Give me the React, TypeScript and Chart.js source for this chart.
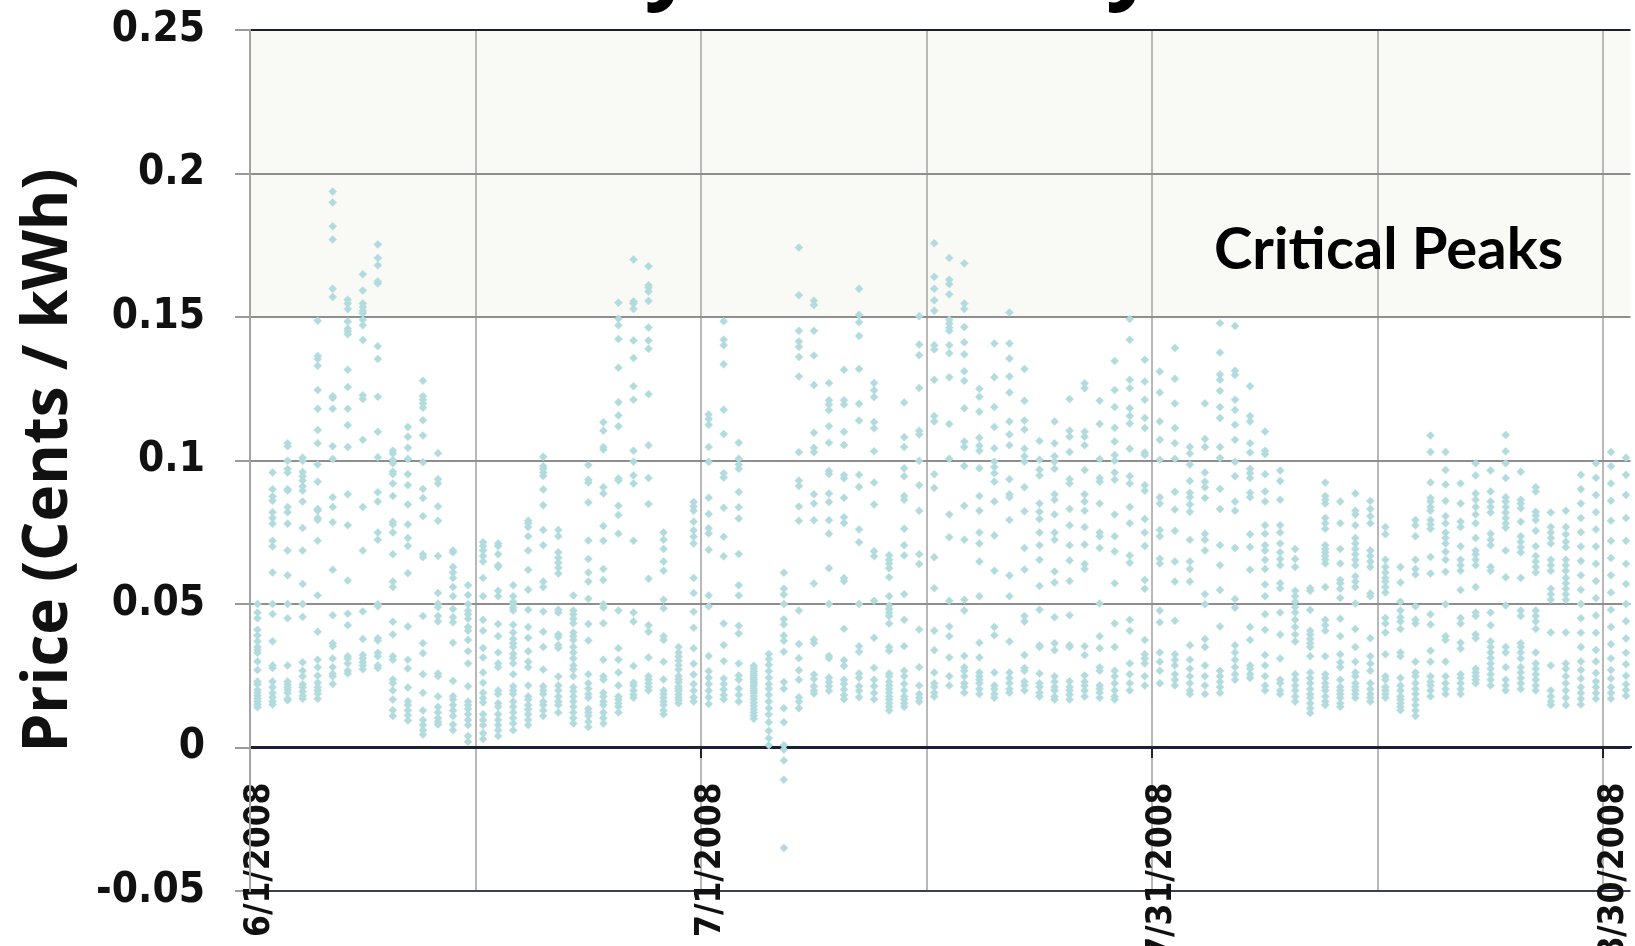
import { useEffect, useRef } from "react";
import { Chart, registerables } from "chart.js";

Chart.register(...registerables);

// ---- axis definitions ----
const xTickDays = [0, 30, 60, 90];
const xTickLabels = ["6/1/2008", "7/1/2008", "7/31/2008", "8/30/2008"];
const yMin = -0.05;
const yMax = 0.25;
const yStep = 0.05;
const criticalPeakThreshold = 0.15;
const chartTitle = "Hourly Electricity Prices";
const yAxisTitle = "Price (Cents / kWh)";
const peakLabel = "Critical Peaks";

// ---- hourly prices per day ----
const juneHourly: number[][] = [
  [0.05, 0.047, 0.045, 0.041, 0.039, 0.037, 0.035, 0.034, 0.033, 0.03, 0.027, 0.023, 0.022, 0.02, 0.019, 0.018, 0.017, 0.016, 0.015, 0.014],
  [0.0958, 0.09, 0.0875, 0.086, 0.082, 0.08, 0.078, 0.072, 0.07, 0.061, 0.05, 0.0465, 0.037, 0.0286, 0.0277, 0.023, 0.021, 0.019, 0.0175, 0.016, 0.015],
  [0.106, 0.105, 0.0999, 0.097, 0.0958, 0.09, 0.0895, 0.0838, 0.082, 0.078, 0.0686, 0.06, 0.05, 0.045, 0.0286, 0.023, 0.022, 0.021, 0.02, 0.019, 0.017, 0.0165],
  [0.101, 0.0999, 0.096, 0.0945, 0.093, 0.091, 0.0895, 0.0857, 0.0765, 0.0686, 0.057, 0.05, 0.0455, 0.0297, 0.0267, 0.0248, 0.022, 0.021, 0.0195, 0.018, 0.017],
  [0.1487, 0.1364, 0.1354, 0.133, 0.1246, 0.118, 0.1106, 0.106, 0.0986, 0.0926, 0.0831, 0.0825, 0.08, 0.0793, 0.072, 0.053, 0.0403, 0.0306, 0.028, 0.025, 0.0226, 0.021, 0.0199, 0.0187, 0.017],
  [0.1937, 0.1899, 0.1816, 0.177, 0.1598, 0.157, 0.1224, 0.1218, 0.118, 0.105, 0.1005, 0.0872, 0.0838, 0.0785, 0.0619, 0.0461, 0.0363, 0.0353, 0.031, 0.028, 0.0257, 0.0248, 0.0221],
  [0.156, 0.1547, 0.1528, 0.1484, 0.1459, 0.145, 0.144, 0.1316, 0.1256, 0.118, 0.1123, 0.1047, 0.0882, 0.0774, 0.0582, 0.0466, 0.0426, 0.0318, 0.031, 0.0293, 0.0267, 0.0258],
  [0.1649, 0.1592, 0.1547, 0.1535, 0.1522, 0.1513, 0.149, 0.1471, 0.142, 0.1227, 0.1214, 0.1072, 0.0838, 0.0686, 0.0474, 0.0378, 0.0322, 0.031, 0.0297, 0.0286, 0.0273],
  [0.1753, 0.1706, 0.168, 0.1624, 0.1617, 0.1398, 0.1354, 0.1222, 0.11, 0.1011, 0.0889, 0.0857, 0.0749, 0.0724, 0.0499, 0.0492, 0.0381, 0.0373, 0.033, 0.0318, 0.0286, 0.0277],
  [0.1034, 0.1024, 0.1002, 0.099, 0.0961, 0.0952, 0.092, 0.0876, 0.0787, 0.0777, 0.0749, 0.0673, 0.0578, 0.0559, 0.0438, 0.0394, 0.0318, 0.0306, 0.0237, 0.0224, 0.0199, 0.0167, 0.013, 0.011],
  [0.1117, 0.1083, 0.1044, 0.1005, 0.0952, 0.0914, 0.0847, 0.0777, 0.073, 0.0702, 0.0607, 0.0422, 0.0306, 0.0275, 0.0209, 0.0161, 0.0148, 0.0129, 0.0112, 0.0094],
  [0.1278, 0.1224, 0.1212, 0.1199, 0.1184, 0.114, 0.1087, 0.0994, 0.0901, 0.0869, 0.0806, 0.0673, 0.0663, 0.0458, 0.0363, 0.0328, 0.0255, 0.0191, 0.0129, 0.0096, 0.0078, 0.006, 0.0045],
  [0.1025, 0.0935, 0.092, 0.084, 0.079, 0.0667, 0.0538, 0.0501, 0.0489, 0.0458, 0.0439, 0.0258, 0.0248, 0.0178, 0.0141, 0.0122, 0.0103, 0.009, 0.008],
  [0.0686, 0.068, 0.0629, 0.061, 0.0591, 0.0559, 0.0527, 0.0483, 0.0454, 0.0436, 0.0365, 0.0232, 0.0179, 0.0167, 0.0148, 0.0129, 0.011, 0.008, 0.006],
  [0.0565, 0.0531, 0.0499, 0.0477, 0.0464, 0.0449, 0.042, 0.0407, 0.0375, 0.0335, 0.0293, 0.0213, 0.016, 0.0148, 0.0135, 0.0116, 0.0096, 0.0078, 0.004, 0.002],
  [0.0715, 0.0702, 0.0686, 0.0667, 0.0648, 0.0591, 0.0527, 0.0445, 0.0407, 0.0347, 0.0314, 0.0261, 0.0226, 0.0191, 0.0172, 0.0157, 0.0116, 0.0096, 0.0078, 0.005, 0.003],
  [0.0711, 0.0702, 0.0673, 0.0635, 0.0629, 0.0546, 0.0527, 0.043, 0.0388, 0.0331, 0.0293, 0.028, 0.0199, 0.0186, 0.0154, 0.0142, 0.0116, 0.0096, 0.0078, 0.006, 0.004],
  [0.0565, 0.0527, 0.0508, 0.0499, 0.0487, 0.0477, 0.0428, 0.0401, 0.0378, 0.0363, 0.035, 0.0327, 0.0312, 0.0293, 0.0255, 0.0213, 0.0199, 0.0186, 0.016, 0.0142, 0.0122, 0.0103, 0.0084, 0.006],
  [0.079, 0.0781, 0.0768, 0.0736, 0.0686, 0.0619, 0.055, 0.048, 0.042, 0.0382, 0.0335, 0.0299, 0.028, 0.0216, 0.0178, 0.0167, 0.0148, 0.0133, 0.0116, 0.0096, 0.0078],
  [0.1013, 0.098, 0.0971, 0.0958, 0.0946, 0.0899, 0.0844, 0.0758, 0.0705, 0.0578, 0.0559, 0.0474, 0.0403, 0.035, 0.0272, 0.0213, 0.0199, 0.0186, 0.016, 0.0148, 0.0129, 0.011],
  [0.0758, 0.0736, 0.068, 0.0661, 0.0644, 0.0626, 0.0606, 0.048, 0.047, 0.0394, 0.0385, 0.0357, 0.0347, 0.0247, 0.0216, 0.0199, 0.0178, 0.016, 0.0148, 0.0122],
  [0.053, 0.0477, 0.0464, 0.0449, 0.0433, 0.0401, 0.0388, 0.0375, 0.035, 0.0331, 0.031, 0.0286, 0.0272, 0.0248, 0.021, 0.0196, 0.0178, 0.016, 0.0142, 0.0122, 0.0103, 0.0084],
  [0.0984, 0.0933, 0.0923, 0.0854, 0.0721, 0.0657, 0.061, 0.0578, 0.0518, 0.043, 0.0373, 0.0255, 0.0224, 0.0205, 0.0186, 0.0173, 0.0135, 0.0122, 0.011, 0.009, 0.0071],
  [0.1133, 0.1104, 0.1047, 0.1038, 0.0907, 0.0885, 0.0772, 0.072, 0.0622, 0.0584, 0.0499, 0.0487, 0.0433, 0.0306, 0.0248, 0.0237, 0.0191, 0.0178, 0.016, 0.0148, 0.0122, 0.0103, 0.0084],
  [0.155, 0.1494, 0.1471, 0.1423, 0.1323, 0.1203, 0.1157, 0.1119, 0.0937, 0.093, 0.0842, 0.081, 0.0745, 0.0477, 0.0346, 0.0306, 0.0261, 0.0216, 0.0178, 0.0167, 0.0154, 0.0142, 0.0122],
  [0.17, 0.1554, 0.1547, 0.1528, 0.1418, 0.1357, 0.1259, 0.1212, 0.1034, 0.0996, 0.0948, 0.092, 0.072, 0.047, 0.0439, 0.0284, 0.0226, 0.0216, 0.0199, 0.0184, 0.0173],
  [0.1677, 0.1611, 0.1602, 0.1589, 0.1556, 0.1463, 0.1418, 0.1389, 0.1231, 0.1053, 0.0939, 0.0848, 0.0588, 0.0426, 0.0403, 0.0314, 0.0248, 0.0237, 0.0224, 0.0211, 0.0199],
  [0.0749, 0.0724, 0.0692, 0.0648, 0.0616, 0.0515, 0.0485, 0.0388, 0.0375, 0.0299, 0.0237, 0.0199, 0.0186, 0.0173, 0.016, 0.0148, 0.0129, 0.0116],
  [0.035, 0.0331, 0.0317, 0.0302, 0.0287, 0.0272, 0.0249, 0.0238, 0.0227, 0.0212, 0.0204, 0.0197, 0.0185, 0.0174, 0.0165, 0.0154],
  [0.0855, 0.084, 0.0825, 0.0787, 0.0757, 0.0734, 0.0711, 0.0591, 0.0538, 0.0473, 0.0417, 0.0346, 0.0292, 0.0254, 0.0221, 0.0198, 0.0175, 0.016],
];

const julyHourly: number[][] = [
  [0.116, 0.1145, 0.1124, 0.1047, 0.0995, 0.087, 0.0814, 0.0764, 0.0746, 0.0689, 0.053, 0.0492, 0.0319, 0.0266, 0.0243, 0.0221, 0.0198, 0.0175, 0.0152],
  [0.1485, 0.1421, 0.1402, 0.1335, 0.1177, 0.1092, 0.0956, 0.0941, 0.0835, 0.0734, 0.0666, 0.0432, 0.0357, 0.0301, 0.024, 0.0221, 0.0202, 0.0183, 0.0168],
  [0.1062, 0.1006, 0.0986, 0.0971, 0.089, 0.0837, 0.0798, 0.0674, 0.0565, 0.053, 0.0424, 0.0397, 0.0293, 0.0251, 0.0236, 0.0205, 0.0183, 0.016],
  [0.0285, 0.0275, 0.0266, 0.0258, 0.0251, 0.0243, 0.0236, 0.0228, 0.0221, 0.0213, 0.0205, 0.0198, 0.019, 0.0179, 0.0168, 0.0156, 0.0145, 0.0133, 0.0122, 0.0111, 0.01],
  [0.0326, 0.0308, 0.0288, 0.0266, 0.0243, 0.0221, 0.0205, 0.0183, 0.016, 0.0137, 0.0115, 0.0088, 0.0058, 0.0032, 0.0008],
  [0.0609, 0.0553, 0.0533, 0.05, 0.0447, 0.0429, 0.039, 0.0372, 0.0334, 0.0228, 0.0205, 0.0137, 0.0088, 0.0008, -0.0007, -0.0045, -0.0112, -0.035],
  [0.1742, 0.1576, 0.1452, 0.1415, 0.1396, 0.1361, 0.1293, 0.1029, 0.093, 0.0911, 0.084, 0.079, 0.0477, 0.0361, 0.0311, 0.0269, 0.0236, 0.0175, 0.016, 0.0137],
  [0.1557, 0.1542, 0.1452, 0.1366, 0.1263, 0.1097, 0.1044, 0.1029, 0.0882, 0.085, 0.0792, 0.0571, 0.0376, 0.0364, 0.0254, 0.0239, 0.0213, 0.0198, 0.0188],
  [0.127, 0.121, 0.1195, 0.1175, 0.1119, 0.1062, 0.0964, 0.0953, 0.0885, 0.0855, 0.0792, 0.0745, 0.0625, 0.05, 0.0319, 0.0311, 0.0243, 0.0228, 0.0213, 0.0198],
  [0.1316, 0.121, 0.1195, 0.11, 0.1054, 0.0949, 0.0938, 0.087, 0.0802, 0.0782, 0.0591, 0.0579, 0.0414, 0.0304, 0.0284, 0.0236, 0.0221, 0.0202, 0.0183, 0.0168],
  [0.1598, 0.1508, 0.1482, 0.1434, 0.1319, 0.1198, 0.1139, 0.095, 0.0908, 0.076, 0.0715, 0.05, 0.0353, 0.0334, 0.0258, 0.0243, 0.0213, 0.0198, 0.0175],
  [0.127, 0.1245, 0.1221, 0.1134, 0.1112, 0.1032, 0.0923, 0.0847, 0.0684, 0.0666, 0.0511, 0.0382, 0.0278, 0.0236, 0.0213, 0.019, 0.0168],
  [0.067, 0.0654, 0.0641, 0.0625, 0.0593, 0.0527, 0.0495, 0.0483, 0.047, 0.0458, 0.0432, 0.035, 0.0337, 0.0258, 0.0248, 0.0229, 0.0216, 0.0204, 0.0191, 0.0178, 0.0167, 0.0154, 0.0142, 0.0129],
  [0.1202, 0.1081, 0.1047, 0.0973, 0.0945, 0.0876, 0.0863, 0.0762, 0.0705, 0.0669, 0.0534, 0.0445, 0.0353, 0.0267, 0.0248, 0.0222, 0.0199, 0.0178, 0.0167, 0.0154, 0.0142],
  [0.1503, 0.1404, 0.1367, 0.1253, 0.1104, 0.1091, 0.0999, 0.0914, 0.0825, 0.0673, 0.0639, 0.0411, 0.028, 0.0216, 0.0186, 0.0173, 0.016],
  [0.1757, 0.164, 0.1598, 0.1558, 0.1522, 0.1402, 0.1387, 0.1281, 0.1155, 0.1136, 0.0952, 0.0904, 0.0663, 0.0555, 0.0407, 0.0339, 0.0261, 0.0224, 0.0211, 0.0191, 0.0178],
  [0.1706, 0.163, 0.1615, 0.1579, 0.149, 0.1477, 0.1463, 0.1452, 0.1402, 0.1374, 0.129, 0.1127, 0.1006, 0.0812, 0.0733, 0.0511, 0.0422, 0.0388, 0.0314, 0.0248, 0.0216],
  [0.1687, 0.1547, 0.1528, 0.1465, 0.1412, 0.137, 0.1311, 0.1278, 0.1182, 0.1066, 0.1047, 0.0981, 0.0842, 0.0724, 0.0515, 0.0477, 0.0319, 0.028, 0.0267, 0.0248, 0.0224, 0.0211, 0.0191],
  [0.125, 0.1222, 0.117, 0.1079, 0.1051, 0.1034, 0.0973, 0.0876, 0.0825, 0.0749, 0.0711, 0.0648, 0.0527, 0.0365, 0.0314, 0.0261, 0.0248, 0.0236, 0.0224, 0.0204, 0.0186],
  [0.1408, 0.129, 0.1186, 0.1117, 0.1043, 0.0996, 0.0977, 0.0956, 0.0926, 0.0857, 0.0739, 0.0616, 0.042, 0.0391, 0.0261, 0.0216, 0.0204, 0.0186, 0.0173],
  [0.1516, 0.1408, 0.1355, 0.1293, 0.1237, 0.1136, 0.1091, 0.1053, 0.0935, 0.0882, 0.0872, 0.0793, 0.0599, 0.0527, 0.0369, 0.0261, 0.0242, 0.0224, 0.0204, 0.0191],
  [0.1319, 0.1208, 0.1139, 0.1108, 0.1041, 0.1015, 0.0996, 0.0907, 0.0823, 0.0695, 0.062, 0.0458, 0.0439, 0.0322, 0.0277, 0.0267, 0.0229, 0.0216, 0.0199],
  [0.1068, 0.1003, 0.0968, 0.0948, 0.085, 0.0821, 0.0796, 0.0749, 0.0705, 0.0654, 0.0563, 0.048, 0.0356, 0.035, 0.0258, 0.0224, 0.0211, 0.0191, 0.0178],
  [0.1136, 0.106, 0.1015, 0.0996, 0.0971, 0.0882, 0.0863, 0.0812, 0.0749, 0.0724, 0.0613, 0.0575, 0.0454, 0.0363, 0.0339, 0.0248, 0.0229, 0.0211, 0.0199, 0.0178, 0.0167],
  [0.1214, 0.1104, 0.1083, 0.103, 0.0935, 0.092, 0.0831, 0.0774, 0.0705, 0.0652, 0.058, 0.0461, 0.0356, 0.035, 0.0231, 0.0211, 0.0199, 0.0184, 0.0167],
  [0.1269, 0.1252, 0.11, 0.1083, 0.1053, 0.0967, 0.0882, 0.0857, 0.0825, 0.0768, 0.0707, 0.0639, 0.0622, 0.0353, 0.0322, 0.0251, 0.0229, 0.0216, 0.0199, 0.0178],
  [0.1208, 0.1127, 0.1005, 0.0939, 0.0926, 0.085, 0.0749, 0.0736, 0.0695, 0.0502, 0.0388, 0.0346, 0.028, 0.0267, 0.0216, 0.0204, 0.0191, 0.0173],
  [0.1347, 0.1246, 0.1186, 0.1114, 0.1066, 0.1019, 0.0999, 0.0958, 0.0933, 0.0812, 0.0736, 0.0683, 0.0572, 0.0432, 0.035, 0.0267, 0.0248, 0.0224, 0.0199, 0.0178, 0.0167],
  [0.1493, 0.1421, 0.1281, 0.1252, 0.1182, 0.1155, 0.1129, 0.1041, 0.0945, 0.092, 0.0838, 0.0781, 0.0669, 0.0644, 0.0445, 0.0407, 0.0293, 0.0255, 0.0224, 0.0199],
  [0.1351, 0.1275, 0.1212, 0.1148, 0.1113, 0.1028, 0.1019, 0.0914, 0.0895, 0.0796, 0.0749, 0.0702, 0.0584, 0.0553, 0.0375, 0.0325, 0.031, 0.0293, 0.0248, 0.0216],
  [0.131, 0.1237, 0.1136, 0.1072, 0.1003, 0.0872, 0.085, 0.0758, 0.0736, 0.0658, 0.0641, 0.0477, 0.0436, 0.0331, 0.0299, 0.0267, 0.0224],
];

const augustHourly: number[][] = [
  [0.1392, 0.1285, 0.1199, 0.1113, 0.106, 0.1006, 0.0891, 0.0829, 0.0755, 0.0648, 0.0578, 0.0442, 0.0325, 0.0306, 0.0286, 0.0255, 0.0236, 0.0216],
  [0.1047, 0.1024, 0.0986, 0.0929, 0.0888, 0.0872, 0.0847, 0.0821, 0.0724, 0.0648, 0.0622, 0.0578, 0.0356, 0.0306, 0.0274, 0.0248, 0.0224, 0.0199, 0.0186],
  [0.1199, 0.1075, 0.1047, 0.0958, 0.0926, 0.0907, 0.0869, 0.0745, 0.0724, 0.0686, 0.0534, 0.0499, 0.0378, 0.035, 0.0286, 0.0248, 0.0216, 0.0186],
  [0.1478, 0.1376, 0.13, 0.1281, 0.1243, 0.1186, 0.1148, 0.1047, 0.1009, 0.0901, 0.0831, 0.0705, 0.0635, 0.0549, 0.0422, 0.0267, 0.0248, 0.0229, 0.0211, 0.0191],
  [0.1469, 0.1313, 0.1298, 0.1212, 0.1176, 0.1125, 0.1072, 0.0996, 0.0945, 0.0857, 0.0825, 0.0695, 0.0517, 0.0487, 0.0356, 0.0331, 0.0306, 0.028, 0.0255, 0.0236],
  [0.1259, 0.1155, 0.1136, 0.106, 0.1028, 0.0971, 0.0956, 0.0939, 0.0888, 0.0872, 0.0743, 0.0699, 0.0619, 0.042, 0.0375, 0.0286, 0.0274, 0.0255, 0.0242],
  [0.1101, 0.1034, 0.1022, 0.0952, 0.0892, 0.0857, 0.0774, 0.0745, 0.0705, 0.0686, 0.0654, 0.0622, 0.0568, 0.0527, 0.0464, 0.041, 0.0322, 0.0286, 0.0248, 0.0216, 0.0199],
  [0.0965, 0.0929, 0.0863, 0.0774, 0.0749, 0.0711, 0.068, 0.0657, 0.0635, 0.0572, 0.0555, 0.047, 0.0394, 0.031, 0.0236, 0.0224, 0.0199, 0.0186],
  [0.0692, 0.0657, 0.0629, 0.0546, 0.0527, 0.0508, 0.0489, 0.047, 0.0445, 0.042, 0.0394, 0.0369, 0.0255, 0.0236, 0.0216, 0.0199, 0.0178, 0.016],
  [0.0555, 0.0546, 0.0479, 0.0407, 0.0394, 0.0378, 0.0363, 0.035, 0.0318, 0.0261, 0.0242, 0.0224, 0.0204, 0.0186, 0.0173, 0.0154, 0.0137, 0.012],
  [0.0923, 0.0876, 0.0863, 0.085, 0.08, 0.0781, 0.0762, 0.0705, 0.0692, 0.068, 0.0667, 0.0654, 0.0641, 0.0559, 0.0445, 0.0426, 0.0407, 0.0318, 0.0255, 0.0242, 0.0224, 0.0211, 0.0199, 0.0178, 0.016, 0.0148],
  [0.0857, 0.0781, 0.0692, 0.0641, 0.0584, 0.0572, 0.0553, 0.0521, 0.0449, 0.0388, 0.0325, 0.0297, 0.028, 0.0236, 0.0211, 0.0199, 0.0186, 0.0173, 0.0154, 0.0142],
  [0.0885, 0.0825, 0.0812, 0.0774, 0.073, 0.0711, 0.0692, 0.0673, 0.0654, 0.0635, 0.0597, 0.0578, 0.0559, 0.0502, 0.0413, 0.035, 0.0299, 0.0261, 0.0248, 0.0224, 0.0211, 0.0199, 0.0186, 0.0173],
  [0.0859, 0.0831, 0.0806, 0.0781, 0.0686, 0.0667, 0.0648, 0.0629, 0.0537, 0.0527, 0.0381, 0.0318, 0.0293, 0.0267, 0.0224, 0.0204, 0.0186, 0.0173, 0.016],
  [0.0768, 0.0743, 0.0654, 0.0629, 0.061, 0.0591, 0.0578, 0.0559, 0.054, 0.0451, 0.0432, 0.0401, 0.0325, 0.0248, 0.0236, 0.0211, 0.0199, 0.0186, 0.0173],
  [0.0629, 0.0575, 0.0508, 0.0477, 0.0454, 0.0439, 0.0413, 0.0331, 0.0318, 0.0242, 0.0216, 0.0199, 0.0178, 0.0167, 0.0154, 0.0142, 0.013],
  [0.0793, 0.0774, 0.0736, 0.0654, 0.0622, 0.0603, 0.0492, 0.0445, 0.0432, 0.0299, 0.0261, 0.0248, 0.0224, 0.0204, 0.0186, 0.0167, 0.0148, 0.0129, 0.011],
  [0.1087, 0.103, 0.0923, 0.0869, 0.0857, 0.0838, 0.0825, 0.0793, 0.0777, 0.0762, 0.0664, 0.0606, 0.0464, 0.0429, 0.0337, 0.0299, 0.0248, 0.0229, 0.0216, 0.0199, 0.0178],
  [0.103, 0.0967, 0.0916, 0.0859, 0.0806, 0.0781, 0.0749, 0.073, 0.0711, 0.0682, 0.0654, 0.0612, 0.0499, 0.0388, 0.0375, 0.0299, 0.0248, 0.0224, 0.0204, 0.0186],
  [0.092, 0.085, 0.0787, 0.0768, 0.0701, 0.0654, 0.0635, 0.0616, 0.0549, 0.0451, 0.0432, 0.0365, 0.0344, 0.0255, 0.0242, 0.0224, 0.0204, 0.0186],
  [0.099, 0.0948, 0.0885, 0.0863, 0.0838, 0.0812, 0.0781, 0.073, 0.0686, 0.0673, 0.0654, 0.0635, 0.0559, 0.047, 0.0458, 0.0394, 0.0381, 0.0274, 0.0261, 0.0248, 0.0236, 0.0224],
  [0.0965, 0.0892, 0.0857, 0.0838, 0.0819, 0.0745, 0.0724, 0.0705, 0.0629, 0.0616, 0.047, 0.0426, 0.0369, 0.035, 0.0331, 0.0312, 0.0293, 0.0274, 0.0255, 0.0236, 0.0216],
  [0.1089, 0.1032, 0.099, 0.0939, 0.0872, 0.0857, 0.0838, 0.0819, 0.08, 0.0781, 0.0766, 0.0686, 0.0593, 0.0495, 0.035, 0.0331, 0.028, 0.0236, 0.0216, 0.0199],
  [0.0961, 0.0863, 0.085, 0.0834, 0.0787, 0.0736, 0.0717, 0.0698, 0.068, 0.0591, 0.0477, 0.0458, 0.0363, 0.035, 0.0331, 0.031, 0.028, 0.0261, 0.0242, 0.0224, 0.0204],
  [0.0907, 0.0892, 0.0821, 0.0808, 0.0793, 0.0755, 0.0701, 0.0667, 0.0648, 0.0629, 0.061, 0.0477, 0.0458, 0.0439, 0.0413, 0.0331, 0.0293, 0.0274, 0.0255, 0.0236, 0.0216, 0.0199],
  [0.0819, 0.0768, 0.0749, 0.073, 0.0711, 0.0654, 0.0635, 0.0616, 0.0553, 0.0534, 0.0515, 0.0401, 0.0286, 0.0199, 0.0178, 0.016, 0.0148],
  [0.0825, 0.0768, 0.0743, 0.0717, 0.0698, 0.0654, 0.0635, 0.0616, 0.0591, 0.0572, 0.0553, 0.0534, 0.0515, 0.0401, 0.0293, 0.0274, 0.0248, 0.0224, 0.0199, 0.0173, 0.0148],
  [0.095, 0.09, 0.085, 0.08, 0.075, 0.07, 0.065, 0.06, 0.055, 0.05, 0.045, 0.04, 0.035, 0.03, 0.027, 0.024, 0.021, 0.019, 0.017, 0.015],
  [0.099, 0.094, 0.088, 0.082, 0.076, 0.07, 0.064, 0.058, 0.052, 0.046, 0.04, 0.034, 0.03, 0.026, 0.023, 0.021, 0.019, 0.017],
  [0.103, 0.098, 0.092, 0.086, 0.079, 0.072, 0.066, 0.06, 0.054, 0.048, 0.042, 0.036, 0.031, 0.027, 0.024, 0.021, 0.019, 0.017],
  [0.101, 0.095, 0.088, 0.08, 0.072, 0.064, 0.057, 0.05, 0.044, 0.038, 0.033, 0.029, 0.025, 0.022, 0.02, 0.018],
];

const allDays: number[][] = [...juneHourly, ...julyHourly, ...augustHourly];

const CONDENSED = '"DejaVu Sans Condensed", "Liberation Sans Narrow", "DejaVu Sans", sans-serif';
const SANS = '"Open Sans", "Noto Sans", sans-serif';
const PEAK_FONT = 'Lato, "Open Sans", sans-serif';

function near(a: number, b: number) {
  return Math.abs(a - b) < 1e-6;
}

const decorPlugin = {
  id: "decor",
  beforeDraw(chart: any) {
    const { ctx, chartArea, scales } = chart;
    const y = scales.y;
    const top = y.getPixelForValue(yMax);
    const bottom = y.getPixelForValue(criticalPeakThreshold);
    ctx.save();
    ctx.fillStyle = "#ffffff";
    ctx.fillRect(0, 0, chart.width, chart.height);
    ctx.fillStyle = "#f9f9f5";
    ctx.fillRect(chartArea.left, top, chartArea.right - chartArea.left, bottom - top);
    ctx.restore();
  },
  afterDraw(chart: any) {
    const { ctx, scales } = chart;
    const y = scales.y;
    const x = scales.x;
    ctx.save();
    ctx.fillStyle = "#000000";
    ctx.textAlign = "left";
    ctx.textBaseline = "alphabetic";
    ctx.font = `bold 58px ${PEAK_FONT}`;
    ctx.fillText(peakLabel, x.getPixelForValue(64.1), y.getPixelForValue(0.1667));
    ctx.font = `bold 88px ${SANS}`;
    ctx.fillText(chartTitle, 398, -8);
    ctx.restore();
  },
};

export default function App() {
  const canvasRef = useRef<HTMLCanvasElement | null>(null);

  useEffect(() => {
    if (!canvasRef.current) return;
    const points: { x: number; y: number }[] = [];
    allDays.forEach((vals, day) => {
      vals.forEach((v) => points.push({ x: day + 0.5, y: v }));
    });

    const chart = new Chart(canvasRef.current, {
      type: "scatter",
      data: {
        datasets: [
          {
            label: "Hourly price",
            data: points,
            pointStyle: "rectRot",
            pointRadius: 4,
            pointHoverRadius: 4,
            backgroundColor: "#b2dbde",
            borderColor: "#b2dbde",
            borderWidth: 0.5,
          },
        ],
      },
      options: {
        animation: false,
        responsive: true,
        maintainAspectRatio: false,
        events: [],
        layout: { padding: { top: 30, bottom: 55, left: 0, right: 0 } },
        plugins: {
          legend: { display: false },
          tooltip: { enabled: false },
          title: { display: false },
        },
        scales: {
          x: {
            type: "linear",
            position: { y: 0 } as any,
            min: 0,
            max: 91.8,
            afterFit(scale: any) {
              scale.paddingLeft = 0;
              scale.paddingRight = 0;
            },
            ticks: {
              stepSize: 15,
              includeBounds: false,
              autoSkip: false,
              maxRotation: 90,
              minRotation: 90,
              padding: 25,
              labelOffset: 10,
              color: "#111111",
              font: { family: CONDENSED, size: 35, weight: "bold" },
              callback: (v: any) => {
                const i = xTickDays.findIndex((d) => near(d, Number(v)));
                return i >= 0 ? xTickLabels[i] : "";
              },
            },
            grid: {
              color: "#b8b8b8",
              lineWidth: 2,
              drawTicks: true,
              tickLength: 10,
              tickWidth: 2,
              tickColor: (ctx: any) =>
                ctx.tick && xTickDays.some((d) => near(d, ctx.tick.value)) ? "#1b2035" : "rgba(0,0,0,0)",
            },
            border: { color: "#1b2035", width: 2 },
          },
          y: {
            type: "linear",
            min: yMin,
            max: yMax,
            afterFit(scale: any) {
              scale.width = 250;
              scale.paddingTop = 0;
              scale.paddingBottom = 0;
            },
            ticks: {
              stepSize: yStep,
              padding: 30,
              color: "#111111",
              font: { family: CONDENSED, size: 42, weight: "bold" },
              callback: (v: any) => String(Number(Number(v).toFixed(2))),
            },
            grid: {
              lineWidth: 2,
              drawTicks: true,
              tickLength: 15,
              tickWidth: 2,
              tickColor: "#9a9a9a",
              color: (ctx: any) => {
                const v = ctx.tick ? ctx.tick.value : 0;
                if (near(v, yMax) || near(v, 0)) return "#1b2035";
                if (near(v, yMin)) return "#3a3f52";
                return "#8e8e8e";
              },
            },
            border: { color: "#a3a3a3", width: 2 },
            title: {
              display: true,
              text: yAxisTitle,
              color: "#111111",
              font: { family: SANS, size: 62, weight: "bold" },
              padding: { top: 12, bottom: 0 },
            },
          },
        },
      },
      plugins: [decorPlugin],
    });
    return () => chart.destroy();
  }, []);

  return (
    <div style={{ position: "fixed", left: 0, top: 0, width: 1635, height: 946, background: "#fff" }}>
      <canvas ref={canvasRef} />
    </div>
  );
}
